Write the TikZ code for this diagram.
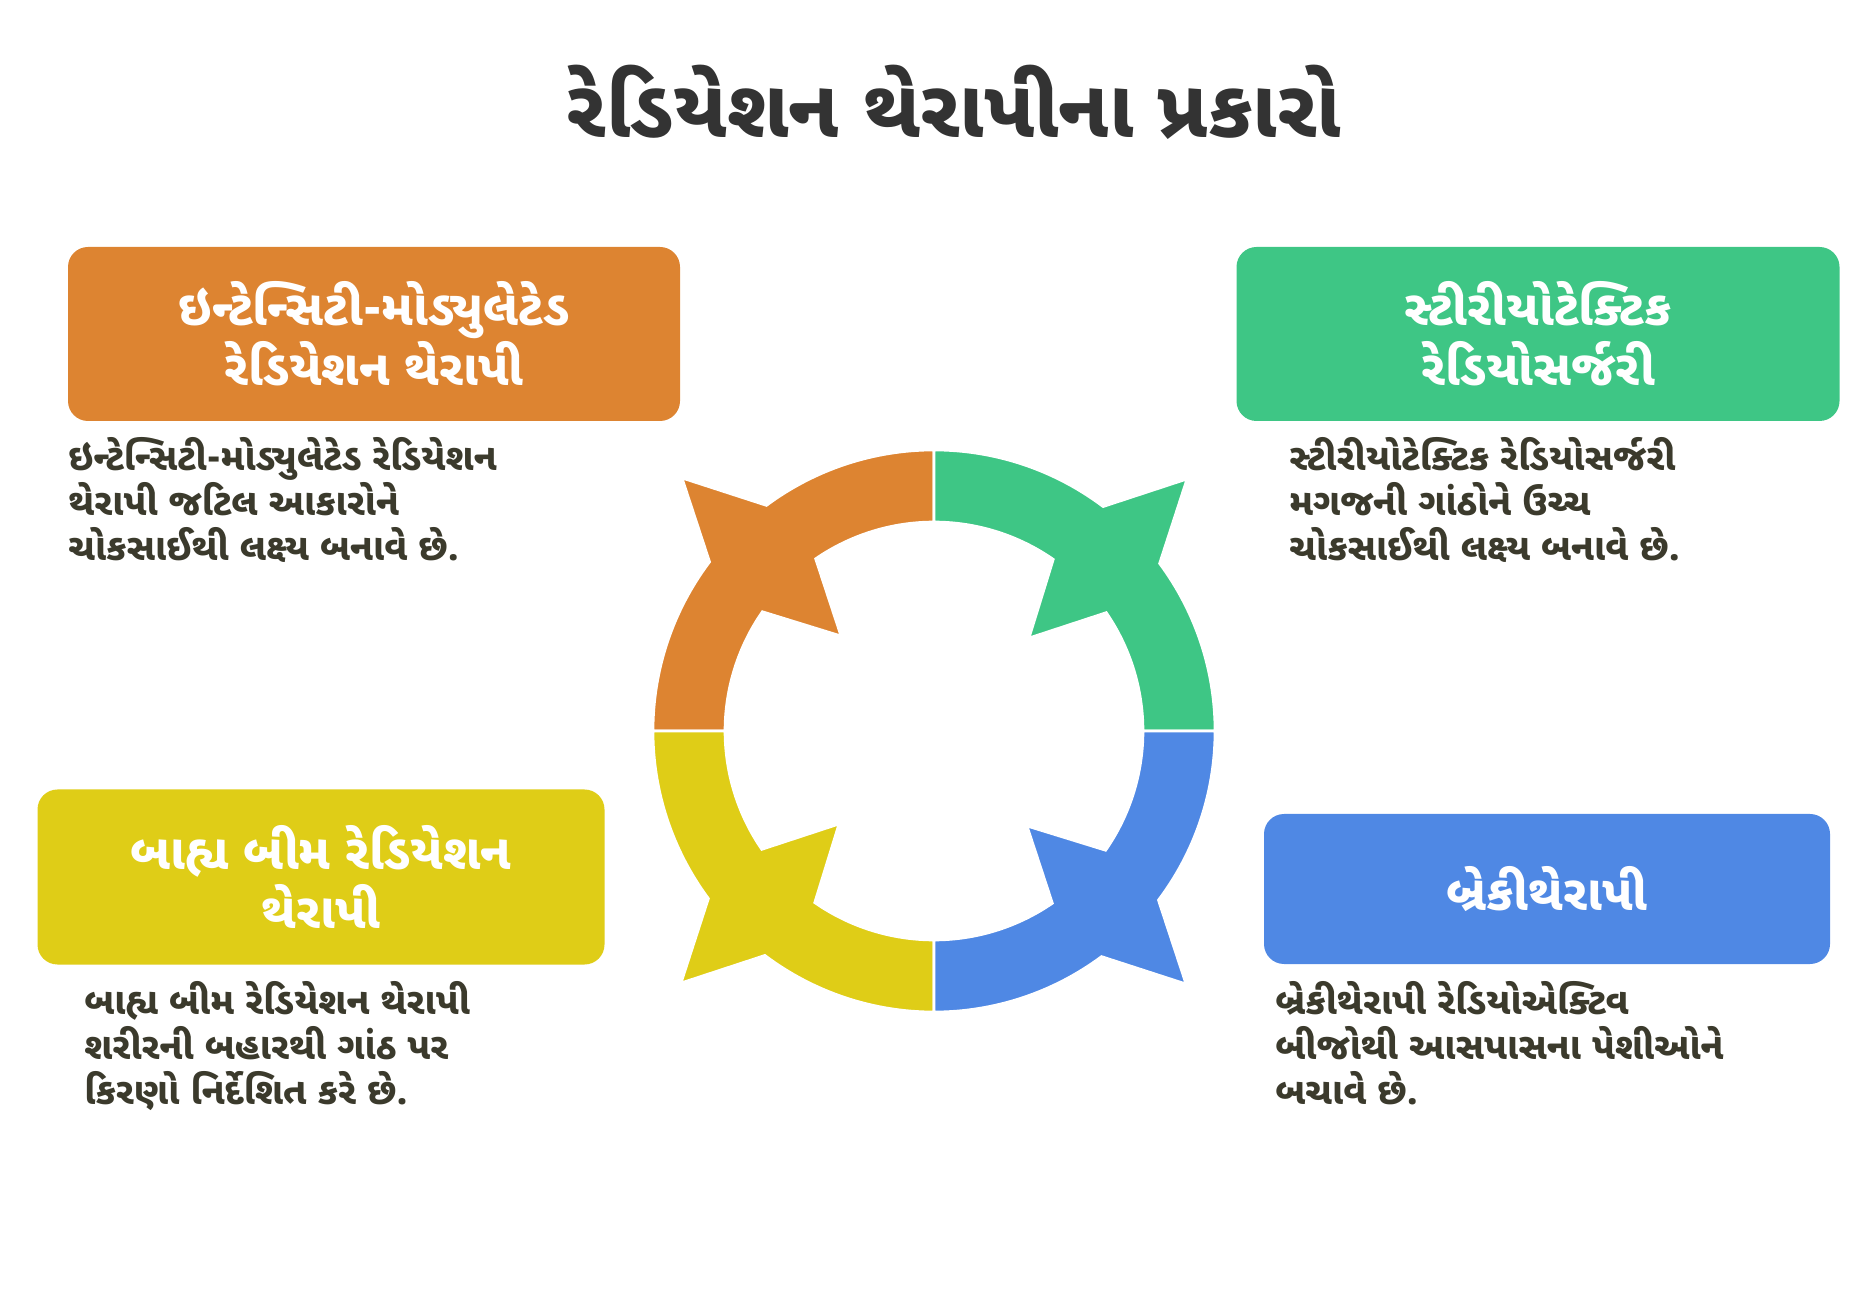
\documentclass[tikz,border=0pt]{standalone}
\usepackage{fontspec}
\newfontfamily\gujfont[Script=Gujarati]{Noto Sans Gujarati UI}
\usetikzlibrary{positioning}
\definecolor{imrtcol}{HTML}{DD8431}
\definecolor{srscol}{HTML}{3EC685}
\definecolor{ebrtcol}{HTML}{DFCD17}
\definecolor{brachycol}{HTML}{4F88E4}
\definecolor{titlecol}{HTML}{333333}
\definecolor{desccol}{HTML}{3B3A2C}
\tikzset{
  headbox/.style={fill=#1, rounded corners=0.4cm, text=white, align=center,
    font=\gujfont\bfseries\fontsize{28}{34}\selectfont, inner sep=0pt},
  desc/.style={text=desccol, align=left, anchor=north west, inner sep=0pt,
    font=\gujfont\bfseries\fontsize{21}{25.6}\selectfont},
  quarter/.style={fill=#1, draw=white, line width=1.5pt}
}
\begin{document}
\begin{tikzpicture}[x=0.02cm, y=0.02cm]
    \useasboundingbox (0,0) rectangle (1868,1295);
    \node[text=titlecol, font=\gujfont\bfseries\fontsize{46}{54}\selectfont] (title) at (954,1193) {રેડિયેશન થેરાપીના પ્રકારો};

    % box and text of each kind
    \node[headbox=imrtcol, minimum width=612*0.02cm, minimum height=174*0.02cm] (imrt) at (374,961) {ઇન્ટેન્સિટી-મોડ્યુલેટેડ\\રેડિયેશન થેરાપી};
    \node[headbox=srscol, minimum width=603*0.02cm, minimum height=174*0.02cm] (srs) at (1538,961) {સ્ટીરીયોટેક્ટિક\\રેડિયોસર્જરી};
    \node[headbox=ebrtcol, minimum width=567*0.02cm, minimum height=175*0.02cm] (ebrt) at (321,418) {બાહ્ય બીમ રેડિયેશન\\થેરાપી};
    \node[headbox=brachycol, minimum width=566*0.02cm, minimum height=150*0.02cm] (brachy) at (1547,406) {બ્રેકીથેરાપી};

    \node[desc] (imrtdesc) at (68,858) {ઇન્ટેન્સિટી-મોડ્યુલેટેડ રેડિયેશન\\થેરાપી જટિલ આકારોને\\ચોકસાઈથી લક્ષ્ય બનાવે છે.};
    \node[desc] (srsdesc) at (1289,858) {સ્ટીરીયોટેક્ટિક રેડિયોસર્જરી\\મગજની ગાંઠોને ઉચ્ચ\\ચોકસાઈથી લક્ષ્ય બનાવે છે.};
    \node[desc] (ebrtdesc) at (84,314) {બાહ્ય બીમ રેડિયેશન થેરાપી\\શરીરની બહારથી ગાંઠ પર\\કિરણો નિર્દેશિત કરે છે.};
    \node[desc] (brachydesc) at (1275,314) {બ્રેકીથેરાપી રેડિયોએક્ટિવ\\બીજોથી આસપાસના પેશીઓને\\બચાવે છે.};

    % ring of four arrowed quarters
    \coordinate (ring) at (934,564);
    \foreach \rot/\col in {0/imrtcol, -90/srscol, 90/ebrtcol, 180/brachycol} {
      \begin{scope}[shift={(ring)}, rotate=\rot]
        \path[quarter=\col] (90:281) arc[start angle=90, end angle=126.6, radius=281]
          -- (-252,253) -- (143:281) arc[start angle=143, end angle=180, radius=281]
          -- (180:209) arc[start angle=180, end angle=145.2, radius=209]
          -- (-93,95) -- (124.5:209) arc[start angle=124.5, end angle=90, radius=209] -- cycle;
      \end{scope}
    }
\end{tikzpicture}
\end{document}
